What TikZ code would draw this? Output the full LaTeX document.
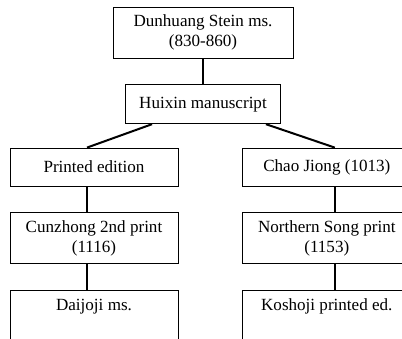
\documentclass[tikz,border=0pt]{standalone}
\usepackage{fontspec}
\setmainfont{Liberation Serif}
\usetikzlibrary{positioning}
\tikzset{
    box/.style={rectangle, draw, line width=0.6pt, inner sep=0pt, align=center,
        font=\fontsize{12.8}{15}\selectfont, minimum width=126pt},
    onebox/.style={box, minimum height=28.5pt},
    twobox/.style={box, minimum height=38.25pt},
    topbox/.style={box, text height=15pt, text depth=23.25pt},
    link/.style={line width=1.5pt}
}

\begin{document}
\begin{tikzpicture}[x=0.75pt, y=-0.75pt, node distance=19.5pt and 48pt]
    \useasboundingbox (0,0) rectangle (402,338);
    \clip (0,0) rectangle (402,338);

    \node[twobox, minimum width=135pt] (dunhuang) at (203,32.5) {Dunhuang Stein ms.\\(830-860)};
    \node[onebox, minimum width=116.25pt, minimum height=29.25pt, below=of dunhuang] (huixin) {Huixin manuscript};
    \node[onebox] (printed) at (94,167) {Printed edition};
    \node[onebox, right=of printed] (chao) {Chao Jiong (1013)};
    \node[twobox, below=of printed] (cunzhong) {Cunzhong 2nd print\\(1116)};
    \node[twobox, below=of chao] (northsong) {Northern Song print\\(1153)};
    \node[topbox, below=of cunzhong] (daijoji) {Daijoji ms.};
    \node[topbox, below=of northsong] (koshoji) {Koshoji printed ed.};

    % branches
    \draw[link] (dunhuang.south) -- (huixin.north);
    \draw[link] ([xshift=-38.25pt]huixin.south) -- ([xshift=-5.25pt]printed.north);
    \draw[link] ([xshift=47.25pt]huixin.south) -- ([xshift=6pt]chao.north);
    \draw[link] ([xshift=-5.25pt]printed.south) -- ([xshift=-5.25pt]cunzhong.north);
    \draw[link] ([xshift=-5.25pt]cunzhong.south) -- ([xshift=-5.25pt]daijoji.north);
    \draw[link] ([xshift=6pt]chao.south) -- ([xshift=6pt]northsong.north);
    \draw[link] ([xshift=6pt]northsong.south) -- ([xshift=6pt]koshoji.north);
\end{tikzpicture}
\end{document}
